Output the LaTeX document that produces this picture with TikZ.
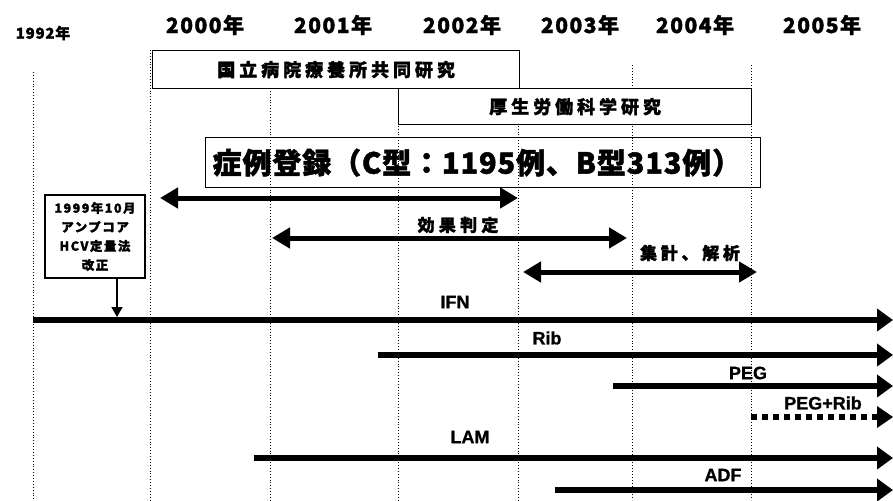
\documentclass[tikz,border=0pt]{standalone}
\usepackage{fontspec}
\setmainfont{Noto Sans CJK JP}[BoldFeatures={FakeBold=1.6}]
\newfontfamily\latf{Liberation Sans}[BoldFeatures={FakeBold=0.8}]
\usetikzlibrary{arrows.meta,calc}
\begin{document}
\begin{tikzpicture}[x=1pt,y=-1pt,
  grid/.style={dotted, line width=0.9pt, black},
  yearbig/.style={font=\bfseries\fontsize{21}{21}\selectfont\addfontfeature{LetterSpace=7}},
  yearsmall/.style={font=\bfseries\fontsize{15}{15}\selectfont\addfontfeature{LetterSpace=5}},
  jpbox/.style={draw, fill=white, line width=1.3pt, inner sep=0pt,
    font=\bfseries\fontsize{18}{18}\selectfont\addfontfeature{LetterSpace=22}},
  jplbl/.style={font=\bfseries\fontsize{17}{17}\selectfont\addfontfeature{LetterSpace=25}},
  druglbl/.style={font=\latf\bfseries\fontsize{18}{18}\selectfont},
  dbl/.style={line width=5pt, {Triangle[length=18pt,width=20pt]}-{Triangle[length=18pt,width=20pt]}},
  drug/.style={line width=5.5pt, -{Triangle[length=16pt,width=22pt]}},
]
\useasboundingbox (0,0) rectangle (893,500);

% vertical dotted grid
\draw[grid] (33,72) -- (33,500);
\draw[grid] (150,50) -- (150,500);
\draw[grid] (270,88) -- (270,500);
\draw[grid] (398,88) -- (398,500);
\draw[grid] (518,88) -- (518,500);
\draw[grid] (632,65) -- (632,500);
\draw[grid] (751,65) -- (751,500);

% years
\node[yearsmall] (y1992) at (43,33) {1992年};
\node[yearbig] (y2000) at (205,25) {2000年};
\node[yearbig] (y2001) at (333,25) {2001年};
\node[yearbig] (y2002) at (462,25) {2002年};
\node[yearbig] (y2003) at (580,25) {2003年};
\node[yearbig] (y2004) at (695,25) {2004年};
\node[yearbig] (y2005) at (822,25) {2005年};

% study boxes
\node[jpbox, minimum width=367pt, minimum height=38pt, anchor=north west] (kokuritsu) at (152,50) {国立病院療養所共同研究};
\node[jpbox, minimum width=353pt, minimum height=36pt, anchor=north west] (kousei) at (398,88) {厚生労働科学研究};

% registration box
\node[draw, line width=1.3pt, anchor=north west, minimum height=50pt, text width=541pt, inner xsep=7pt, inner ysep=0pt, align=left,
  font=\bfseries\fontsize{29}{29}\selectfont\addfontfeature{LetterSpace=3}] (touroku) at (205,137) {症例登録（C型：1195例、B型313例）};

% period arrows
\coordinate (a1l) at (160,198);
\coordinate (a1r) at (518,198);
\draw[dbl] (a1l) -- (a1r);
\node[jplbl] (kouka) at (458,225) {効果判定};
\coordinate (a2l) at (272,238);
\coordinate (a2r) at (627,238);
\draw[dbl] (a2l) -- (a2r);
\node[jplbl, font=\bfseries\fontsize{17}{17}\selectfont\addfontfeature{LetterSpace=22}] (shukei) at (690,253) {集計、解析};
\coordinate (a3l) at (523,272);
\coordinate (a3r) at (757,272);
\draw[dbl] (a3l) -- (a3r);

% 1999 note
\node[draw, line width=1.3pt, minimum width=100pt, minimum height=83pt, inner sep=0pt, align=center,
  font=\bfseries\fontsize{12.5}{19}\selectfont\addfontfeature{LetterSpace=12}] (note) at (95,236.5) {1999年10月\\アンプコア\\HCV定量法\\改正};
\coordinate (noteTip) at (117,317);
\draw[line width=1.6pt, -{Triangle[length=10pt,width=11pt]}] ([xshift=22pt]note.south) -- (noteTip);

% drug lines
\coordinate (ifnS) at (33,320);  \coordinate (ifnE) at (893,320);
\draw[drug] (ifnS) -- (ifnE);
\node[druglbl] (ifn) at (455,302) {IFN};

\coordinate (ribS) at (378,355);  \coordinate (ribE) at (893,355);
\draw[drug] (ribS) -- (ribE);
\node[druglbl] (rib) at (547,338) {Rib};

\coordinate (pegS) at (613,386);  \coordinate (pegE) at (893,386);
\draw[drug] (pegS) -- (pegE);
\node[druglbl] (peg) at (748,373) {PEG};

\coordinate (prS) at (751,417);  \coordinate (prE) at (893,417);
\draw[line width=6pt, dash pattern=on 6pt off 5pt] (prS) -- ($(prE)+(-16,0)$);
\fill ($(prE)+(-16,-11)$) -- (prE) -- ($(prE)+(-16,11)$) -- cycle;
\node[druglbl] (pegrib) at (823,403) {PEG+Rib};

\coordinate (lamS) at (254,458);  \coordinate (lamE) at (893,458);
\draw[drug] (lamS) -- (lamE);
\node[druglbl] (lam) at (470,437) {LAM};

\coordinate (adfS) at (555,490);  \coordinate (adfE) at (893,490);
\draw[drug] (adfS) -- (adfE);
\node[druglbl] (adf) at (723,475) {ADF};
\end{tikzpicture}
\end{document}
